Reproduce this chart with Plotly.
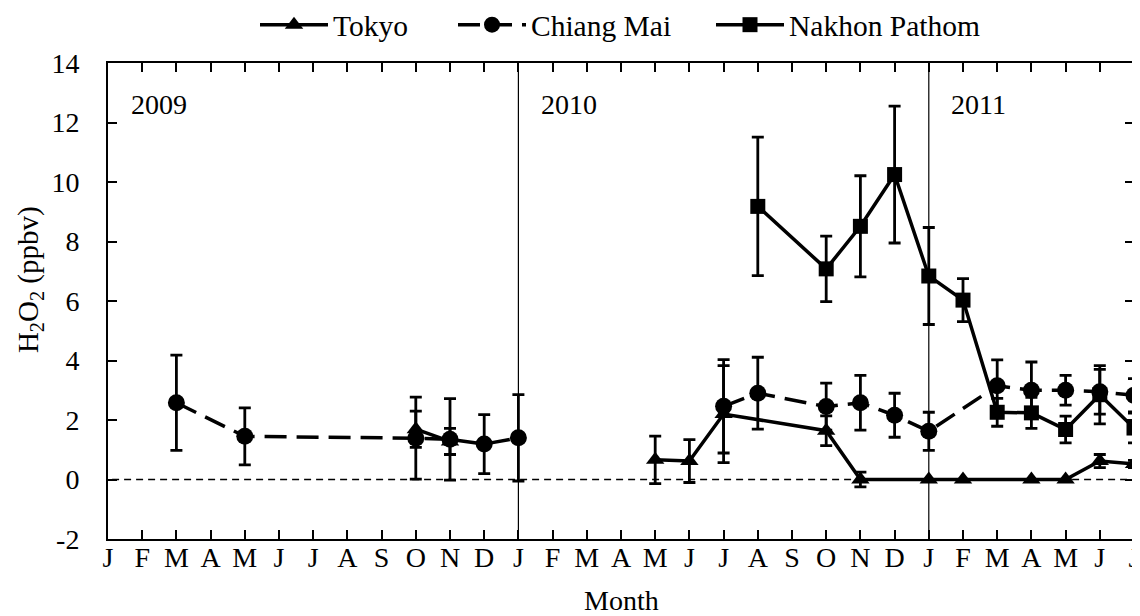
import plotly.graph_objects as go

# ---- data ----
month_labels = ["J", "F", "M", "A", "M", "J", "J", "A", "S", "O", "N", "D",
                "J", "F", "M", "A", "M", "J", "J", "A", "S", "O", "N", "D",
                "J", "F", "M", "A", "M", "J", "J"]
month_pos = list(range(len(month_labels)))  # 0 = Jan 2009

tokyo_x = [9, 10, None, 16, 17, 18, 21, 22, 24, 25, 27, 28, 29, 30]
tokyo_y = [1.69, 1.28, None, 0.66, 0.62, 2.20, 1.64, 0.0, 0.0, 0.0, 0.0, 0.0, 0.62, 0.52]
tokyo_err = [0.61, 0.44, 0, 0.80, 0.72, 1.63, 0.50, 0.25, 0, 0, 0, 0, 0.22, 0.12]

cm_x = [2, 4, 9, 10, 11, 12, None, 18, 19, 21, 22, 23, 24, 26, 27, 28, 29, 30]
cm_y = [2.58, 1.45, 1.39, 1.35, 1.19, 1.40, None, 2.46, 2.90, 2.45, 2.58, 2.16, 1.62,
        3.15, 3.00, 3.00, 2.95, 2.83]
cm_err = [1.60, 0.96, 1.38, 1.37, 0.99, 1.45, 0, 1.57, 1.21, 0.79, 0.92, 0.74, 0.64,
          0.87, 0.95, 0.50, 0.75, 0.56]

np_x = [19, 21, 22, 23, 24, 25, 26, 27, 28, 29, 30]
np_y = [9.18, 7.08, 8.51, 10.25, 6.84, 6.03, 2.26, 2.24, 1.68, 2.85, 1.73]
np_err = [2.33, 1.10, 1.70, 2.30, 1.63, 0.72, 0.47, 0.52, 0.45, 0.98, 0.50]

year_labels = ["2009", "2010", "2011"]
year_label_x = [0.6, 12.6, 24.6]
year_sep_x = [12, 24]

FONT = "Liberation Serif, Times New Roman, serif"
FS = 28
W, H = 1132, 608   # page body adds an 8px offset

fig = go.Figure()

def err(arr):
    return dict(type="data", array=arr, visible=True, color="black",
                thickness=2.8, width=6)

fig.add_trace(go.Scatter(
    x=tokyo_x, y=tokyo_y, name="Tokyo", mode="lines+markers", legend="legend",
    line=dict(color="black", width=3.5),
    marker=dict(symbol="triangle-up", size=16, color="black"),
    error_y=err(tokyo_err)))
fig.add_trace(go.Scatter(
    x=cm_x, y=cm_y, name="Chiang Mai", mode="lines+markers", legend="legend2",
    line=dict(color="black", width=3.5, dash="22px,10px"),
    marker=dict(symbol="circle", size=17, color="black"),
    error_y=err(cm_err)))
fig.add_trace(go.Scatter(
    x=np_x, y=np_y, name="Nakhon Pathom", mode="lines+markers", legend="legend3",
    line=dict(color="black", width=3.5),
    marker=dict(symbol="square", size=15, color="black"),
    error_y=err(np_err)))

shapes = []
for xs in year_sep_x:
    shapes.append(dict(type="line", xref="x", yref="paper", x0=xs, x1=xs, y0=0, y1=1,
                       line=dict(color="black", width=1.2), layer="below"))
shapes.append(dict(type="line", xref="paper", yref="y", x0=0.004, x1=1, y0=0, y1=0,
                   line=dict(color="black", width=1.5, dash="7px,5px"), layer="below"))

annotations = []
for lab, xv in zip(year_labels, year_label_x):
    annotations.append(dict(x=xv, y=12.6, xref="x", yref="y", text=lab, showarrow=False,
                            xanchor="left", yanchor="middle",
                            font=dict(family=FONT, size=FS, color="black")))
annotations.append(dict(x=-0.076, y=0.544, xref="paper", yref="paper",
                        text="H<sub>2</sub>O<sub>2</sub> (ppbv)", textangle=-90,
                        showarrow=False, xanchor="center", yanchor="middle",
                        font=dict(family=FONT, size=29, color="black")))
annotations.append(dict(x=0.5, y=-0.130, xref="paper", yref="paper",
                        text="Month", showarrow=False, xanchor="center", yanchor="middle",
                        font=dict(family=FONT, size=FS, color="black")))

def leg(xpix):
    return dict(orientation="h", xref="container", yref="container",
                x=xpix / W, xanchor="left", y=1 - 17 / H, yanchor="middle",
                font=dict(family=FONT, size=29.5, color="black"),
                bgcolor="rgba(0,0,0,0)", itemwidth=68)

fig.update_layout(
    width=W, height=H,
    margin=dict(l=100, r=6, t=55, b=77),
    paper_bgcolor="white", plot_bgcolor="white",
    font=dict(family=FONT, size=FS, color="black"),
    showlegend=True,
    legend=leg(247), legend2=leg(445), legend3=leg(703),
    shapes=shapes,
    annotations=annotations,
)
fig.update_xaxes(
    range=[0, 30], tickmode="array", tickvals=month_pos, ticktext=month_labels,
    ticks="inside", ticklen=9, tickwidth=1.5, tickcolor="black",
    showline=True, linecolor="black", linewidth=2, mirror="ticks",
    showgrid=False, zeroline=False, ticklabelstandoff=-8, automargin=False,
    tickfont=dict(family=FONT, size=FS, color="black"))
fig.update_yaxes(
    range=[-2, 14], tickmode="array", tickvals=[-2, 0, 2, 4, 6, 8, 10, 12, 14],
    ticktext=["-2", "0", "2", "4", "6", "8", "10", "12", "14"],
    ticks="inside", ticklen=9, tickwidth=1.5, tickcolor="black",
    showline=True, linecolor="black", linewidth=2, mirror="ticks",
    showgrid=False, zeroline=False, ticklabelstandoff=21, automargin=False,
    tickfont=dict(family=FONT, size=FS, color="black"))

fig.write_html("out.html")
